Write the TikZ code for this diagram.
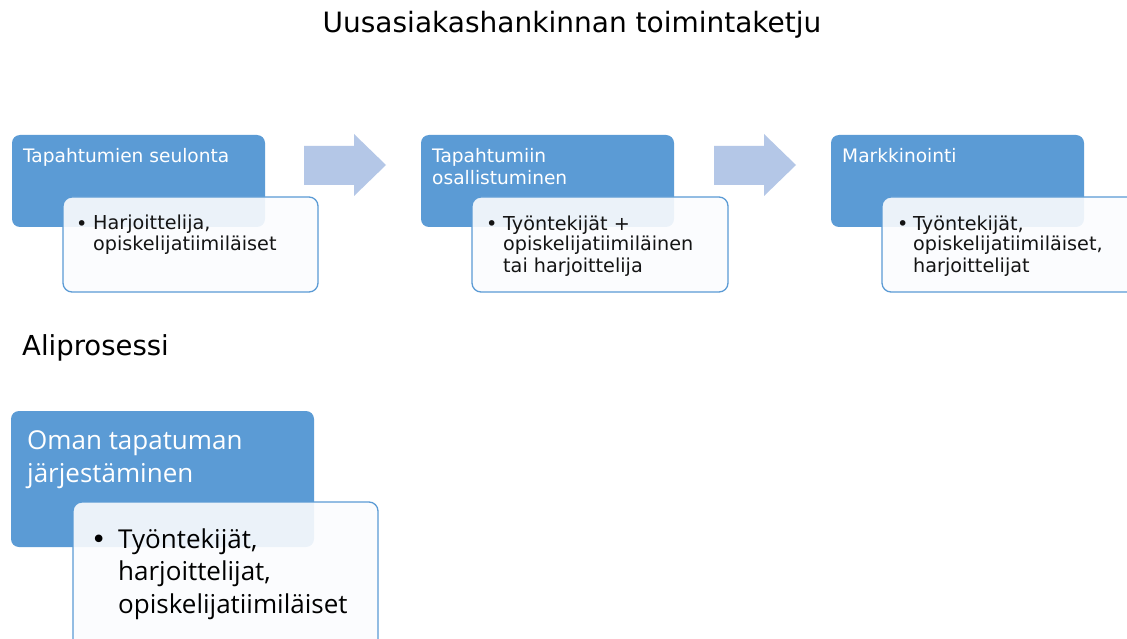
\documentclass[tikz,border=0pt]{standalone}
\usepackage{fontspec}
\setmainfont{DejaVu Sans}
\newfontfamily\segoe{Open Sans}
\definecolor{boxblue}{HTML}{5B9BD5}
\definecolor{arrowblue}{HTML}{B4C7E7}
\definecolor{paper}{RGB}{251,252,254}
\definecolor{ink}{HTML}{141414}
\begin{document}
\begin{tikzpicture}[x=1pt,y=-1pt,
  bluebox/.style={fill=boxblue, rounded corners=8pt, inner sep=0pt, outer sep=0pt, anchor=north west},
  notebox/.style={fill=paper, fill opacity=0.9, draw=boxblue, line width=1.3pt, rounded corners=9pt, inner sep=0pt, outer sep=0pt, anchor=north west},
  headtext/.style={text=white, font=\fontsize{18.6}{22}\selectfont, inner sep=0pt, anchor=base west, align=left},
  itemtext/.style={text=ink, font=\fontsize{19.2}{21}\selectfont, inner sep=0pt, anchor=base west, align=left},
  bighead/.style={text=white, font=\segoe\fontsize{26}{33}\selectfont, inner sep=0pt, anchor=base west, align=left},
  bigitem/.style={text=black, font=\segoe\fontsize{26}{32.5}\selectfont, inner sep=0pt, anchor=base west, align=left},
  chevron/.style={fill=arrowblue}
]
\clip (0,0) rectangle (1127,639);
\fill[white] (0,0) rectangle (1127,639);

% title
\node[inner sep=0pt, anchor=base, font=\fontsize{28}{34}\selectfont, text=black] (title) at (572,33) {Uusasiakashankinnan toimintaketju};

% step 1
\node[bluebox, minimum width=253pt, minimum height=92pt] (b1) at (12,135) {};
\node[headtext] (h1) at (23,163) {Tapahtumien seulonta};
\node[notebox, minimum width=255pt, minimum height=95pt] (n1) at (63,197) {};
\node[itemtext] (d1) at (76,230) {•};
\node[itemtext] (t1) at (93,251) {Harjoittelija,\\opiskelijatiimiläiset};

% arrow 1
\fill[chevron] (304,146) -- (354,146) -- (354,134) -- (386,165) -- (354,196) -- (354,185) -- (304,185) -- cycle;

% step 2
\node[bluebox, minimum width=253pt, minimum height=92pt] (b2) at (421,135) {};
\node[headtext] (h2) at (432,185) {Tapahtumiin\\osallistuminen};
\node[notebox, minimum width=256pt, minimum height=95pt] (n2) at (472,197) {};
\node[itemtext] (d2) at (486,230) {•};
\node[itemtext] (t2) at (503,272) {Työntekijät +\\opiskelijatiimiläinen\\tai harjoittelija};

% arrow 2
\fill[chevron] (714,146) -- (764,146) -- (764,134) -- (796,165) -- (764,196) -- (764,185) -- (714,185) -- cycle;

% step 3
\node[bluebox, minimum width=253pt, minimum height=92pt] (b3) at (831,135) {};
\node[headtext] (h3) at (842,163) {Markkinointi};
\node[notebox, minimum width=265pt, minimum height=95pt] (n3) at (882,197) {};
\node[itemtext] (d3) at (897,230) {•};
\node[itemtext] (t3) at (913,272) {Työntekijät,\\opiskelijatiimiläiset,\\harjoittelijat};

% sub-process
\node[inner sep=0pt, anchor=base west, font=\fontsize{27.5}{33}\selectfont, text=black] (sub) at (22,355) {Aliprosessi};

\node[bluebox, minimum width=303pt, minimum height=136pt] (b4) at (11,411) {};
\node[bighead] (h4) at (27,482) {Oman tapatuman\\järjestäminen};
\node[notebox, minimum width=305pt, minimum height=160pt] (n4) at (73,502) {};
\node[inner sep=0pt, anchor=base west, text=black, font=\fontsize{26}{32}\selectfont] (d4) at (91,548) {•};
\node[bigitem] (t4) at (118,613) {Työntekijät,\\harjoittelijat,\\opiskelijatiimiläiset};
\end{tikzpicture}
\end{document}
